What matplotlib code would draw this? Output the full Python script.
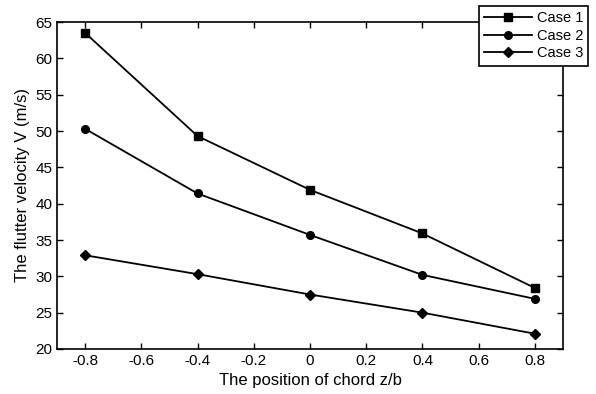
import matplotlib.pyplot as plt

plt.rcParams['font.family'] = ['Liberation Sans', 'DejaVu Sans']

# Data
z = [-0.8, -0.4, 0.0, 0.4, 0.8]
case1 = [63.5, 49.3, 41.9, 35.9, 28.4]
case2 = [50.3, 41.4, 35.7, 30.2, 26.9]
case3 = [32.9, 30.3, 27.5, 25.0, 22.1]

fig = plt.figure(figsize=(5.96, 3.94), dpi=100)
ax = fig.add_axes([57 / 596, 1 - 349 / 394, (563 - 57) / 596, (349 - 22) / 394])

ax.plot(z, case1, 'k-s', markersize=5.5, linewidth=1.3, label='Case 1')
ax.plot(z, case2, 'k-o', markersize=5.5, linewidth=1.3, label='Case 2')
ax.plot(z, case3, 'k-D', markersize=5, linewidth=1.3, label='Case 3')

ax.set_xlim(-0.9, 0.9)
ax.set_ylim(20, 65)
ax.set_xticks([-0.8, -0.6, -0.4, -0.2, 0, 0.2, 0.4, 0.6, 0.8])
ax.set_xticklabels(['-0.8', '-0.6', '-0.4', '-0.2', '0', '0.2', '0.4', '0.6', '0.8'])
ax.set_yticks(range(20, 70, 5))
ax.tick_params(direction='in', top=True, right=True, length=4, labelsize=11, width=1)
for s in ax.spines.values():
    s.set_linewidth(1.2)

ax.set_xlabel('The position of chord z/b', fontsize=12)
ax.set_ylabel('The flutter velocity V (m/s)', fontsize=12)

leg = fig.legend(loc='upper right', bbox_to_anchor=(588 / 596, 1 - 6 / 394), fontsize=10.5,
                 fancybox=False, edgecolor='black', framealpha=1, borderaxespad=0,
                 handlelength=3.3, handletextpad=0.3, borderpad=0.35, labelspacing=0.25)
leg.get_frame().set_linewidth(1.2)

fig.savefig('out.png', dpi=100)
